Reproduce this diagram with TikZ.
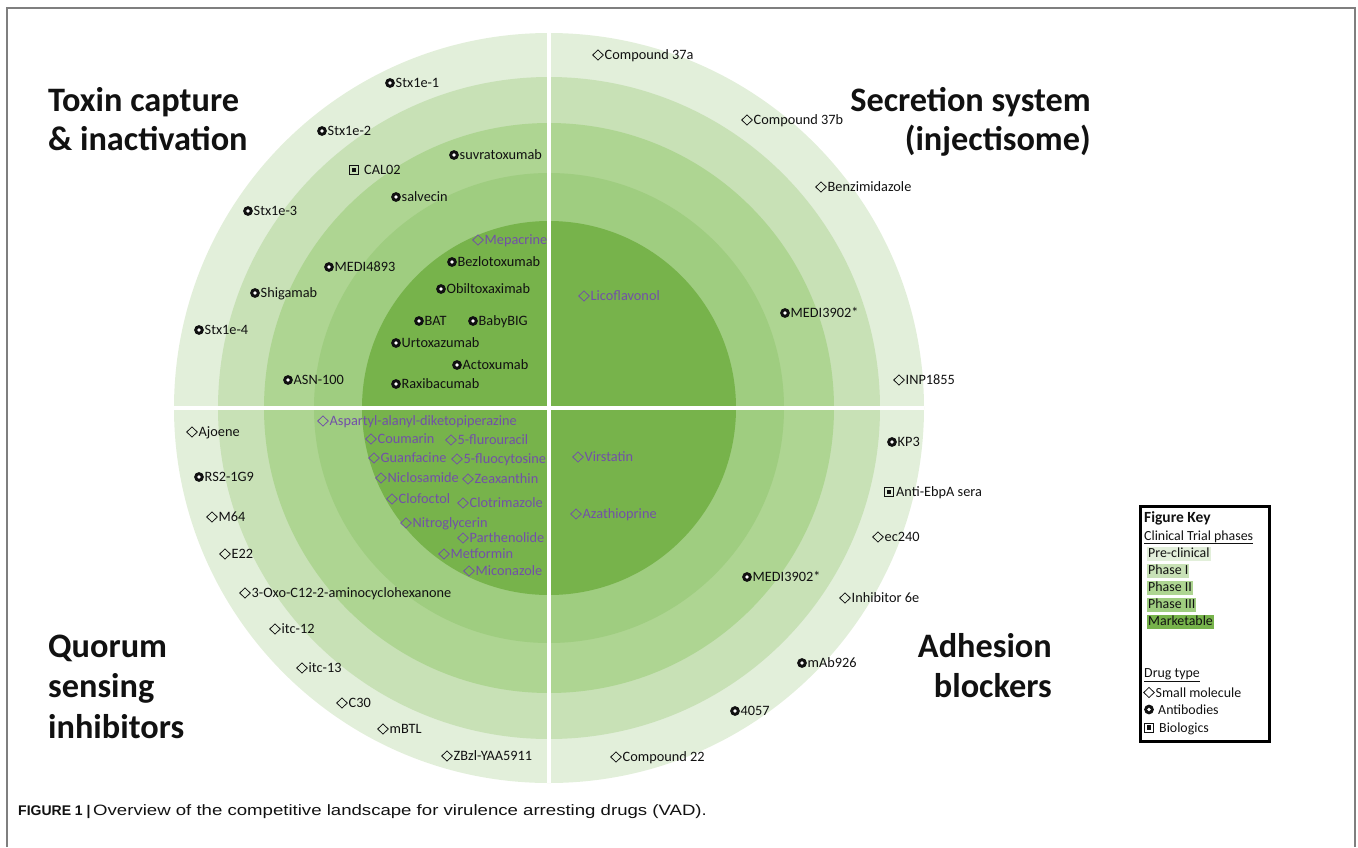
\documentclass[tikz,border=0pt]{standalone}
\usepackage{fontspec}
\setmainfont{Carlito}
\newfontfamily\captionfont{Liberation Sans}

% phase colours, outermost (pre-clinical) to innermost (marketable)
\definecolor{ringA}{HTML}{E2EFDA}
\definecolor{ringB}{HTML}{C8E1B6}
\definecolor{ringC}{HTML}{AED592}
\definecolor{ringD}{HTML}{9FCD80}
\definecolor{ringE}{HTML}{77B34B}
\definecolor{mkt}{HTML}{7250A8}
\definecolor{ink}{HTML}{111111}
\definecolor{framegray}{HTML}{7F7F7F}

\tikzset{
  lbl/.style={anchor=base west, inner sep=0pt, text=ink,
              font=\fontsize{14.3}{16}\selectfont},
  quadtitle/.style={inner sep=0pt, text=ink,
              font=\fontsize{34.3}{40}\selectfont\bfseries},
  keyentry/.style={lbl, font=\fontsize{13.9}{16}\selectfont,
              inner xsep=1pt, inner ysep=0pt,
              text height=10.5pt, text depth=3.6pt},
}

% drug-type markers, drawn at (x,y)
\newcommand\markSM[3]{\draw[#3, line width=0.75pt, line join=miter]
  (#1-5.3,#2) -- (#1,#2-5.1) -- (#1+5.3,#2) -- (#1,#2+5.1) -- cycle;}
\newcommand\markAB[3]{\fill[#3] (#1,#2) circle (4.9);
  \fill[white] (#1,#2) circle (1.8);}
\newcommand\markBI[3]{\draw[#3, line width=0.8pt]
  (#1-4.5,#2-4.5) rectangle (#1+4.5,#2+4.5);
  \fill[#3] (#1-2.2,#2-2.2) rectangle (#1+2.2,#2+2.2);}

% labelled drugs: [colour] name x y text
\newcommand\drugSM[5][ink]{\markSM{#3}{#4}{#1}%
  \node[lbl, text=#1] (#2) at (#3+6.5,#4+4.5) {#5};}
\newcommand\drugAB[4]{\markAB{#2}{#3}{ink}%
  \node[lbl] (#1) at (#2+5.5,#3+4.5) {#4};}
\newcommand\drugBI[5]{\markBI{#2}{#3}{ink}%
  \node[lbl] (#1) at (#2+#4,#3+4.5) {#5};}

\begin{document}
\begin{tikzpicture}[x=1pt,y=-1pt]
\useasboundingbox (0,0) rectangle (1358,847);

% outer frame (open at the bottom)
\draw[framegray, line width=1.6pt] (7,847) -- (7,8) -- (1355,8) -- (1355,847);

% concentric phase rings
\coordinate (c) at (549,408);
\fill[ringA] (c) circle (375);
\fill[ringB] (c) circle (331);
\fill[ringC] (c) circle (285);
\fill[ringD] (c) circle (235);
\fill[ringE] (c) circle (187);

% quadrant dividers
\draw[white, line width=4pt] (549,33) -- (549,783);
\draw[white, line width=4pt] (174,408) -- (924,408);

% quadrant titles
\node[quadtitle, anchor=base west] (tox1) at (48,111) {Toxin capture};
\node[quadtitle, anchor=base west] (tox2) at (48,150) {\& inactivation};
\node[quadtitle, anchor=base east] (sec1) at (1091,111) {Secretion system};
\node[quadtitle, anchor=base east] (sec2) at (1091,150) {(injectisome)};
\node[quadtitle, anchor=base west] (quo1) at (48,657) {Quorum};
\node[quadtitle, anchor=base west] (quo2) at (48,697.5) {sensing};
\node[quadtitle, anchor=base west] (quo3) at (48,738) {inhibitors};
\node[quadtitle, anchor=base east] (adh1) at (1052,657) {Adhesion};
\node[quadtitle, anchor=base east] (adh2) at (1052,697.5) {blockers};

% toxin capture & inactivation
\drugAB{stxa}{390}{83}{Stx1e-1}
\drugAB{stxb}{322}{131}{Stx1e-2}
\drugBI{calz}{354}{170}{10}{CAL02}
\drugAB{suvr}{454}{155}{suvratoxumab}
\drugAB{salv}{396}{197}{salvecin}
\drugAB{stxc}{248}{211}{Stx1e-3}
\drugSM[mkt]{mepa}{478}{240}{Mepacrine}
\drugAB{bezl}{452}{262}{Bezlotoxumab}
\drugAB{medifour}{329}{267}{MEDI4893}
\drugAB{obil}{441}{289}{Obiltoxaximab}
\drugAB{shig}{255}{293}{Shigamab}
\drugAB{bat}{419}{321}{BAT}
\drugAB{baby}{473}{321}{BabyBIG}
\drugAB{stxd}{199}{330}{Stx1e-4}
\drugAB{urto}{396}{343}{Urtoxazumab}
\drugAB{acto}{457}{365}{Actoxumab}
\drugAB{asn}{288}{380}{ASN-100}
\drugAB{raxi}{396}{384}{Raxibacumab}

% secretion system
\drugSM{cpa}{598}{55}{Compound 37a}
\drugSM{cpb}{747}{120}{Compound 37b}
\drugSM{benz}{821}{187}{Benzimidazole}
\drugSM[mkt]{lico}{584}{296}{Licoflavonol}
\drugAB{meditwa}{785}{313}{MEDI3902*}
\drugSM{inp}{899}{380}{INP1855}

% quorum sensing inhibitors
\drugSM[mkt]{aspa}{323}{421}{Aspartyl-alanyl-diketopiperazine}
\drugSM[mkt]{coum}{371}{439}{Coumarin}
\drugSM[mkt]{fluu}{451}{440}{5-flurouracil}
\drugSM[mkt]{guan}{374}{458}{Guanfacine}
\drugSM[mkt]{fluc}{457}{459}{5-fluocytosine}
\drugSM[mkt]{nicl}{381}{478}{Niclosamide}
\drugSM[mkt]{zeax}{468}{479}{Zeaxanthin}
\drugSM[mkt]{clof}{392}{499}{Clofoctol}
\drugSM[mkt]{clot}{463}{503}{Clotrimazole}
\drugSM[mkt]{nitr}{406}{523}{Nitroglycerin}
\drugSM[mkt]{part}{463}{538}{Parthenolide}
\drugSM[mkt]{metf}{444}{554}{Metformin}
\drugSM[mkt]{mico}{469}{571}{Miconazole}
\drugSM{ajoe}{192}{432}{Ajoene}
\drugAB{rstwo}{199}{477}{RS2-1G9}
\drugSM{msix}{212}{517}{M64}
\drugSM{etwo}{225}{554}{E22}
\drugSM{oxo}{245}{593}{3-Oxo-C12-2-aminocyclohexanone}
\drugSM{itca}{275}{629}{itc-12}
\drugSM{itcb}{302}{668}{itc-13}
\drugSM{cthirty}{342}{703}{C30}
\drugSM{mbtl}{383}{729}{mBTL}
\drugSM{zbzl}{447}{756}{ZBzl-YAA5911}

% adhesion blockers
\drugSM[mkt]{virs}{578}{457}{Virstatin}
\drugSM[mkt]{azat}{576}{514}{Azathioprine}
\drugAB{kpthree}{892}{442}{KP3}
\drugBI{ebpa}{889}{492}{7}{Anti-EbpA sera}
\drugSM{ectwo}{878}{537}{ec240}
\drugAB{meditwb}{747}{577}{MEDI3902*}
\drugSM{inhib}{845}{598}{Inhibitor 6e}
\drugAB{mab}{802}{663}{mAb926}
\drugAB{ffs}{735}{711}{4057}
\drugSM{cptt}{616}{757}{Compound 22}

% figure key
\node[draw=black, line width=2.5pt, minimum width=129pt, minimum height=235pt,
      anchor=north west, inner sep=0pt] (key) at (1139,505) {};
\node[lbl, font=\fontsize{15.5}{18}\selectfont\bfseries] (keyhead) at (1144,522) {Figure Key};
\node[lbl, font=\fontsize{13.9}{16}\selectfont] (keyphase) at (1144,540) {\underline{Clinical Trial phases}};
\node[keyentry, fill=ringA] (kpre) at (1147,557.5) {Pre-clinical};
\node[keyentry, fill=ringB] (kone) at (1147,574.5) {Phase I};
\node[keyentry, fill=ringC] (ktwo) at (1147,591.5) {Phase II};
\node[keyentry, fill=ringD] (kthree) at (1147,608.5) {Phase III};
\node[keyentry, fill=ringE] (kmkt) at (1147,625.5) {Marketable};
\node[lbl, font=\fontsize{13.9}{16}\selectfont] (keytype) at (1144,677) {\underline{Drug type}};
\markSM{1149}{692.5}{ink}
\node[lbl, font=\fontsize{13.9}{16}\selectfont] (ksm) at (1155.5,697) {Small molecule};
\markAB{1149}{709.5}{ink}
\node[lbl, font=\fontsize{13.9}{16}\selectfont] (kab) at (1158,714) {Antibodies};
\markBI{1149}{727.5}{ink}
\node[lbl, font=\fontsize{13.9}{16}\selectfont] (kbi) at (1159,732) {Biologics};

% caption
\node[anchor=base west, inner sep=0pt, text=ink] (capnum) at (18,815)
  {\captionfont\fontsize{14}{16}\selectfont\bfseries FIGURE 1 |};
\node[anchor=base west, inner sep=0pt, text=ink] (captext) at (93,815)
  {\scalebox{1.24}[1]{\captionfont\fontsize{15}{17}\selectfont Overview of the competitive landscape for virulence arresting drugs (VAD).}};
\end{tikzpicture}
\end{document}
